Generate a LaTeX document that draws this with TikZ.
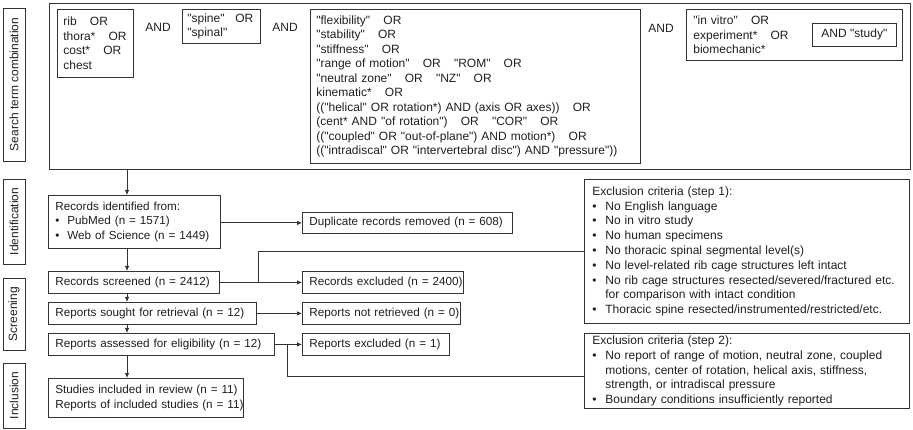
\documentclass[tikz,border=0pt]{standalone}
\usepackage{fontspec}
\setmainfont{Liberation Sans}[Ligatures=TeXOff]
\usetikzlibrary{arrows.meta}
\newcommand\og{\hspace{1.1em}}
\newcommand\bul[1]{\mbox{\makebox[13pt][l]{•}#1}}
\newcommand\cnt[1]{\mbox{\hspace*{13pt}#1}}
\newcommand\bi[1]{\mbox{\makebox[12pt][l]{•}#1}}
\begin{document}
\begin{tikzpicture}[x=1pt,y=-1pt,
  every node/.style={font=\fontsize{11.7}{14.5}\selectfont, text=black!88},
  bx/.style={draw=black!80, line width=0.8pt, rectangle, inner ysep=0pt, inner xsep=6pt, anchor=north west, align=left},
  sx/.style={bx, font=\fontsize{12}{14.5}\selectfont},
  ex/.style={bx, inner xsep=8pt, font=\fontsize{12}{14.8}\selectfont},
  lab/.style={draw=black!80, line width=0.8pt, rectangle, rotate=90, inner sep=0pt, minimum height=22pt, font=\fontsize{12}{14.5}\selectfont},
  lnk/.style={draw=black!80, line width=0.8pt},
  arr/.style={lnk, -{Latex[length=5pt,width=4.5pt]}}]
\useasboundingbox (0,0) rectangle (913,430);

% phase labels
\node[lab, minimum width=153pt] (l1) at (14,84.5) {Search term combination};
\node[lab, minimum width=85pt] (l2) at (14,221.5) {Identification};
\node[lab, minimum width=72pt] (l3) at (14,314) {Screening};
\node[lab, minimum width=65pt] (l4) at (14,395.5) {Inclusion};

% search term combination
\node[bx, inner sep=0pt, minimum width=861pt, minimum height=166pt] (search) at (49,3) {};
\node[sx, minimum height=68pt, text width=64pt] (rib) at (57,9) {\mbox{rib\og OR}\\\mbox{thora*\og OR}\\\mbox{cost*\og OR}\\chest};
\node[font=\fontsize{12}{14.5}\selectfont] (and1) at (158,27) {AND};
\node[sx, minimum height=34pt, text width=68pt, inner xsep=5pt] (spine) at (182,9) {\mbox{"spine"\hspace{0.9em}OR}\\"spinal"};
\node[font=\fontsize{12}{14.5}\selectfont] (and2) at (285,27) {AND};
\node[sx, minimum height=154pt, text width=318pt] (flex) at (310,9) {"flexibility"\og OR\\
"stability"\og OR\\
"stiffness"\og OR\\
"range of motion"\og OR\og "ROM"\og OR\\
"neutral zone"\og OR\og "NZ"\og OR\\
kinematic*\og OR\\
\mbox{(("helical" OR rotation*) AND (axis\ OR axes))\og OR}\\
(cent* AND "of rotation")\og OR\og "COR"\og OR\\
\mbox{(("coupled" OR "out-of-plane") AND motion*)\og OR}\\
\mbox{(("intradiscal" OR "intervertebral\ disc") AND "pressure"))}};
\node[font=\fontsize{12}{14.5}\selectfont] (and3) at (661,28) {AND};
\node[sx, minimum height=51pt, text width=202pt, inner xsep=7pt] (vitro) at (686,9) {"in vitro"\og OR\\experiment*\og OR\\biomechanic*};
\node[sx, inner xsep=0pt, minimum width=84pt, minimum height=23pt, align=center] (study) at (812,23) {AND "study"};

% flow boxes
\node[bx, minimum height=53pt, text width=158pt, inner xsep=7pt] (ident) at (48,195) {Records identified from:\\\bi{PubMed (n = 1571)}\\\bi{Web of Science (n = 1449)}};
\node[bx, minimum height=21pt, text width=196pt, inner xsep=7pt] (dup) at (302,212) {\mbox{Duplicate records removed (n = 608)}};
\node[bx, minimum height=22pt, text width=157pt, inner xsep=7pt] (scr) at (48,271) {\mbox{Records screened (n = 2412)}};
\node[bx, minimum height=22pt, text width=147pt, inner xsep=7pt] (rexc) at (302,271) {\mbox{Records excluded (n = 2400)}};
\node[bx, minimum height=22pt, text width=194pt, inner xsep=7pt] (sought) at (48,302) {\mbox{Reports sought for retrieval (n = 12)}};
\node[bx, minimum height=22pt, text width=144pt, inner xsep=7pt] (notr) at (302,302) {\mbox{Reports not retrieved (n = 0)}};
\node[bx, minimum height=22pt, text width=212pt, inner xsep=7pt] (assess) at (48,333) {\mbox{Reports assessed for eligibility (n = 12)}};
\node[bx, minimum height=22pt, text width=133pt, inner xsep=7pt] (pexc) at (302,333) {\mbox{Reports excluded (n = 1)}};
\node[bx, minimum height=39pt, text width=181pt, inner xsep=7pt] (incl) at (48,378) {\mbox{Studies included in review (n = 11)}\\\mbox{Reports of included studies (n = 11)}};

\node[ex, minimum height=144pt, text width=309pt] (ex1) at (584,179) {\mbox{Exclusion\ criteria (step 1):}\\
\bul{No English language}\\
\bul{No in vitro study}\\
\bul{No human\ specimens}\\
\bul{No thoracic spinal segmental level(s)}\\
\bul{No level-related\ rib cage structures\ left intact}\\
\bul{No rib cage structures\ resected/severed/fractured\ etc.}\\
\cnt{for comparison with intact condition}\\
\bul{Thoracic spine resected/instrumented/restricted/etc.}};
\node[ex, minimum height=75pt, text width=309pt] (ex2) at (584,333) {\mbox{Exclusion criteria (step 2):}\\
\bul{No report of range of motion, neutral zone, coupled}\\
\cnt{motions, center of rotation, helical axis, stiffness,}\\
\cnt{strength,\ or intradiscal pressure}\\
\bul{Boundary conditions insufficiently\ reported}};

% connectors
\coordinate (ax) at (127,0);
\coordinate (b1) at (258,282);
\coordinate (b2) at (287,344);
\coordinate (e2) at (584,376);
\draw[arr] (ax |- search.south) -- (ax |- ident.north);
\draw[arr] (ax |- ident.south) -- (ax |- scr.north);
\draw[arr] (ax |- scr.south) -- (ax |- sought.north);
\draw[arr] (ax |- sought.south) -- (ax |- assess.north);
\draw[arr] (ax |- assess.south) -- (ax |- incl.north);
\draw[arr] (ident.east |- dup.west) -- (dup.west);
\draw[arr] (scr.east) -- (rexc.west);
\draw[arr] (sought.east) -- (notr.west);
\draw[arr] (assess.east) -- (pexc.west);
\draw[lnk] (b1) |- (ex1.west);
\draw[lnk] (b2) |- (e2);
\end{tikzpicture}
\end{document}
